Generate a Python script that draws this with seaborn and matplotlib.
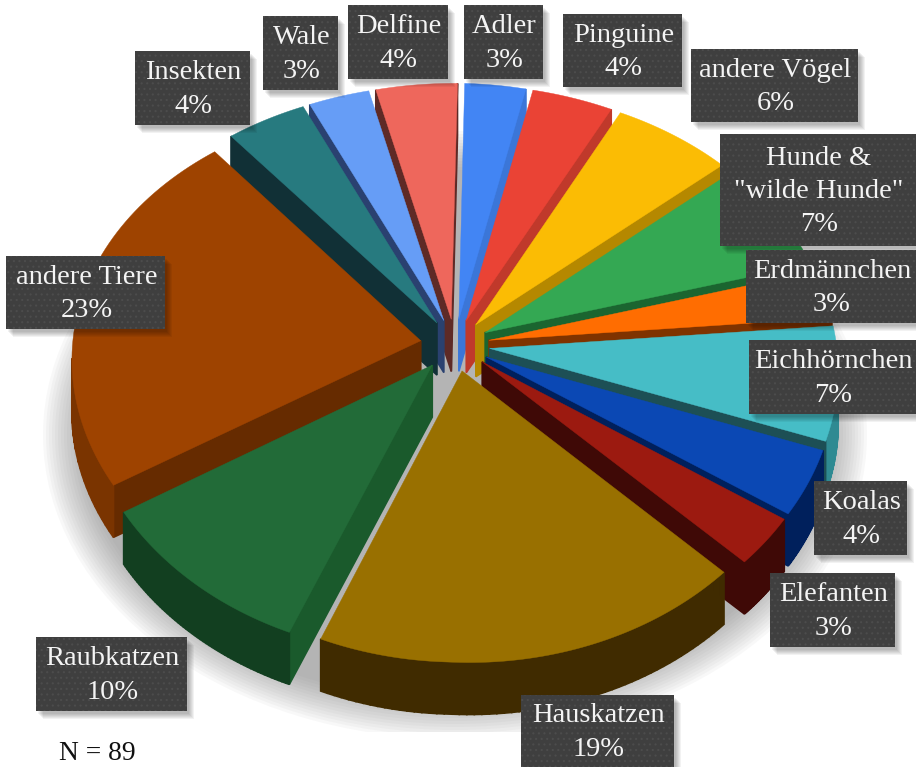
"""Exploded pseudo-3D pie of favourite animals, with dark label boxes."""

import numpy as np
import matplotlib
matplotlib.use('Agg')
import matplotlib.pyplot as plt
import seaborn as sns
from matplotlib.patches import Ellipse, Polygon, Rectangle


CATEGORIES = ["Adler", "Pinguine", "andere Vögel", 'Hunde &\n"wilde Hunde"', "Erdmännchen",
              "Eichhörnchen", "Koalas", "Elefanten", "Hauskatzen", "Raubkatzen",
              "andere Tiere", "Insekten", "Wale", "Delfine"]
SHARES = [3, 4, 6, 7, 3, 7, 4, 3, 19, 10, 23, 4, 3, 4]

TOP_COLORS = ["#4285f4", "#ea4335", "#fbbc04", "#34a853", "#ff6d01", "#46bdc6", "#0b48b4",
              "#9c1a10", "#997000", "#226b38", "#9e4300", "#277a7f", "#669df6", "#ee675c"]
SIDE_COLORS = ["#3b76d8", "#c0392b", "#b58800", "#1b6530", "#7f3300", "#1d4f55", "#00205c",
               "#3f0906", "#402b00", "#1a5a2c", "#662b00", "#113036", "#2a4170", "#5e2a26"]
RIM_COLORS = ["#2f5fb0", "#a0281e", "#a07800", "#185a2a", "#7f3300", "#2f8a92", "#00205c",
              "#3f0906", "#402b00", "#123f20", "#7a3400", "#113036", "#2a4170", "#5e2a26"]

# label boxes in pixels: left, top, right, bottom
BOXES = [(464, 5, 543, 79), (563, 14, 682, 87), (691, 49, 858, 122), (720, 134, 916, 246),
         (746, 250, 916, 323), (749, 340, 916, 414), (814, 481, 907, 555), (770, 573, 895, 647),
         (521, 695, 674, 767), (36, 637, 187, 711), (6, 256, 165, 329), (135, 51, 250, 125),
         (263, 16, 338, 90), (348, 5, 448, 79)]

# projection of the pie disc onto the image
CX, CY = 455, 345
RX, RY = 348, 261
TILT_X, TILT_Y = 0.058, 0.088
SKEW = 6
EXPLODE = 0.1
DEPTH = 52


def project(x, y):
    sx = 1 / (1 - TILT_X * y)
    sy = 1 / (1 - TILT_Y * y)
    # right side of the disc sits a bit lower than the left side
    drop = np.where(x > 0, 10 * x, 2 * x)
    return CX + RX * x * sx - SKEW * y, CY + (RY * y + drop) * sy


def slice_outline(theta1, theta2):
    """Screen outline of one slice, apex first, then clockwise along the rim."""
    mid = np.radians(90 - (theta1 + theta2) / 2)
    # pie angles run counter-clockwise from east, here clockwise from north
    a = np.radians(np.linspace(90 - theta2, 90 - theta1, 60))
    x = EXPLODE * np.sin(mid) + np.r_[0, np.sin(a)]
    y = -EXPLODE * np.cos(mid) + np.r_[0, -np.cos(a)]
    return np.column_stack(project(x, y))


def draw_slice(ax, pts, top, side, rim):
    n = len(pts)
    for i in range(n):
        p0, p1 = pts[i], pts[(i + 1) % n]
        if p1[0] >= p0[0]:
            continue  # faces away from the viewer
        color = side if i in (0, n - 1) else rim
        quad = [p0, p1, p1 + [0, DEPTH], p0 + [0, DEPTH]]
        ax.add_patch(Polygon(quad, closed=True, fc=color, ec=color, lw=1.2))
    ax.add_patch(Polygon(pts, closed=True, fc=top, ec=top, lw=0.3))


def draw_label(ax, box, text):
    x0, y0, x1, y1 = box
    for k in range(6):
        ax.add_patch(Rectangle((x0 + 2 + k, y0 + 3 + k), x1 - x0, y1 - y0,
                               fc='black', ec='none', alpha=0.05, zorder=20))
    ax.add_patch(Rectangle((x0, y0), x1 - x0, y1 - y0, fc='#3f3f3f', ec='none', zorder=21))
    ax.add_patch(Rectangle((x0, y0), x1 - x0, y1 - y0, fc='none', ec='#4c4c4c', lw=0,
                           hatch='...', zorder=22))
    ax.text((x0 + x1) / 2 + 1, (y0 + y1) / 2 + 1.5, text, color='#f4f4f4', ha='center', va='center',
            fontsize=20.5, linespacing=1.43, zorder=23)


sns.set_theme(style='white')
plt.rcParams['font.family'] = ['Liberation Serif', 'DejaVu Serif']
plt.rcParams['hatch.linewidth'] = 0.8

fig = plt.figure(figsize=(9.16, 7.67), dpi=100)
ax = fig.add_axes([0, 0, 1, 1])

wedges, _ = ax.pie(SHARES, startangle=90, counterclock=False, colors=sns.color_palette(TOP_COLORS))
angles = [(w.theta1, w.theta2) for w in wedges]
for w in wedges:
    w.remove()

ax.set_aspect('auto')
ax.set_xlim(0, 916)
ax.set_ylim(767, 0)
ax.axis('off')

# soft grey shadow under the pie
clip = Rectangle((0, 127), 916, 605, transform=ax.transData)
for k in range(14):
    shadow = Ellipse((455, 435), 2 * (412 - 3 * k), 2 * (304 - 3 * k), fc='#5a5a5a', ec='none', alpha=0.04)
    ax.add_patch(shadow)
    shadow.set_clip_path(clip)

# back slices first so the front ones overlap them
order = sorted(range(len(SHARES)), key=lambda i: -np.sin(np.radians(sum(angles[i]) / 2)))
for i in order:
    pts = slice_outline(*angles[i])
    draw_slice(ax, pts, TOP_COLORS[i], SIDE_COLORS[i], RIM_COLORS[i])

for name, share, box in zip(CATEGORIES, SHARES, BOXES):
    draw_label(ax, box, f"{name}\n{share}%")

ax.text(59, 753, "N = 89", color='#111111', ha='left', va='center', fontsize=19.8)

fig.savefig('out.png', dpi=100)
